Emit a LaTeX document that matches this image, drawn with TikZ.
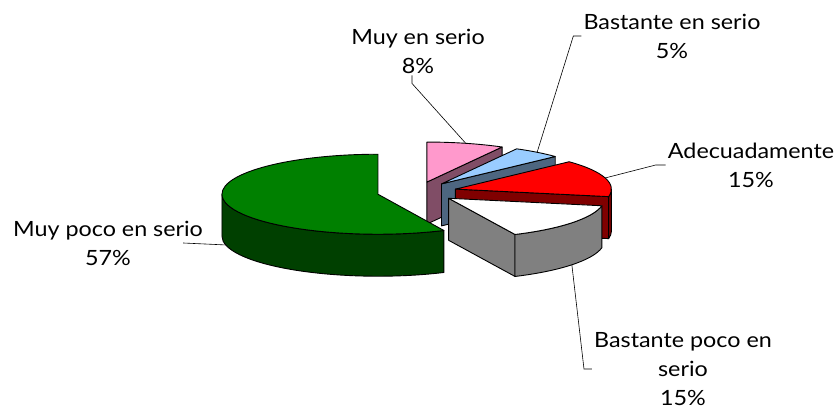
\documentclass[tikz,border=0pt]{standalone}
\usepackage{fontspec}
\setmainfont[FakeStretch=1.11]{Lato}
\usetikzlibrary{calc}
\definecolor{greentop}{RGB}{0,128,0}
\definecolor{greenside}{RGB}{0,64,0}
\definecolor{pinktop}{RGB}{255,153,204}
\definecolor{pinkside}{RGB}{128,77,102}
\definecolor{bluetop}{RGB}{153,204,255}
\definecolor{blueside}{RGB}{77,102,128}
\definecolor{redtop}{RGB}{255,0,0}
\definecolor{redside}{RGB}{128,0,0}
\definecolor{greyside}{RGB}{128,128,128}
\begin{document}
\begin{tikzpicture}[x=1pt,y=1pt,
    slice/.style={draw=black,line width=0.9pt,line join=round},
    leader/.style={line width=0.6pt},
    lbl/.style={align=center,font=\fontsize{21}{29}\selectfont,inner sep=2pt}]
    \useasboundingbox (0,0) rectangle (839,411);
    % pie centre and exploded slice centres
    \coordinate (O) at (417,219);
    \coordinate (pink) at ($(O)+(75.6:40 and 10.26)$);
    \coordinate (blue) at ($(O)+(52.2:40 and 10.26)$);
    \coordinate (red) at ($(O)+(16.2:40 and 10.26)$);
    \coordinate (white) at ($(O)+(-37.8:40 and 10.26)$);
    \coordinate (green) at ($(O)+(192.6:40 and 10.26)$);
    % Muy en serio
    \draw[slice,fill=pinkside] (pink) -- ($(pink)+(61.2:156 and 40)$) -- ++(0,-42) -- ($(pink)+(0,-42)$) -- cycle;
    \draw[slice,fill=pinktop] (pink) -- ++(61.2:156 and 40) arc[start angle=61.2,end angle=90,x radius=156,y radius=40] -- cycle;
    % Bastante en serio
    \draw[slice,fill=blueside] (blue) -- ($(blue)+(43.2:156 and 40)$) -- ++(0,-42) -- ($(blue)+(0,-42)$) -- cycle;
    \draw[slice,fill=bluetop] (blue) -- ++(43.2:156 and 40) arc[start angle=43.2,end angle=61.2,x radius=156,y radius=40] -- cycle;
    % Adecuadamente
    \draw[slice,fill=redside] (red) -- ($(red)+(-10.8:156 and 40)$) -- ++(0,-42) -- ($(red)+(0,-42)$) -- cycle;
    \draw[slice,fill=redside] ($(red)+(-10.8:156 and 40)$) arc[start angle=-10.8,end angle=0,x radius=156,y radius=40]
        -- ++(0,-42) arc[start angle=0,end angle=-10.8,x radius=156,y radius=40] -- cycle;
    \draw[slice,fill=redtop] (red) -- ++(-10.8:156 and 40) arc[start angle=-10.8,end angle=43.2,x radius=156,y radius=40] -- cycle;
    % Bastante poco en serio
    \draw[slice,fill=greyside] (white) -- ($(white)+(-64.8:156 and 40)$) -- ++(0,-42) -- ($(white)+(0,-42)$) -- cycle;
    \draw[slice,fill=greyside] ($(white)+(-64.8:156 and 40)$) arc[start angle=-64.8,end angle=-10.8,x radius=156,y radius=40]
        -- ++(0,-42) arc[start angle=-10.8,end angle=-64.8,x radius=156,y radius=40] -- cycle;
    \draw[slice,fill=white] (white) -- ++(-64.8:156 and 40) arc[start angle=-64.8,end angle=-10.8,x radius=156,y radius=40] -- cycle;
    % Muy poco en serio
    \draw[slice,fill=greenside] ($(green)+(180:156 and 40)$) arc[start angle=180,end angle=295,x radius=156,y radius=40]
        -- ++(0,-42) arc[start angle=295,end angle=180,x radius=156,y radius=40] -- cycle;
    \draw[slice,fill=greentop] (green) -- ++(90:156 and 40) arc[start angle=90,end angle=295,x radius=156,y radius=40] -- cycle;
    % labels
    \node[lbl] (muy) at (418,360) {Muy en serio\\8\%};
    \node[lbl] (bas) at (672,375) {Bastante en serio\\5\%};
    \node[lbl] (ade) at (751,246) {Adecuadamente\\15\%};
    \node[lbl] (mpo) at (108,168) {Muy poco en serio\\57\%};
    \node[lbl] (bpo) at (683,42) {Bastante poco en\\serio\\15\%};
    % leader lines
    \coordinate (muyEnd) at ($(pink)+(75.6:156 and 40)$);
    \coordinate (basEnd) at ($(blue)+(52.2:156 and 40)$);
    \coordinate (adeEnd) at ($(red)+(16.2:156 and 40)$);
    \coordinate (bpoEnd) at ($(white)+(-37.8:156 and 40)+(0,-42)$);
    \coordinate (mpoEnd) at ($(green)+(192.6:156 and 40)+(0,-42)$);
    \draw[leader] ([xshift=-6pt]muy.south) -- ++(0,-8) -- (muyEnd);
    \draw[leader] (bas.west) -- ++(-8,0) -- (basEnd);
    \draw[leader] (ade.west) -- ++(-10,0) -- (adeEnd);
    \draw[leader] (bpo.west) -- ++(-8,0) -- (bpoEnd);
    \draw[leader] ($(mpo.east)+(-22,0)$) -- (mpoEnd);
\end{tikzpicture}
\end{document}
